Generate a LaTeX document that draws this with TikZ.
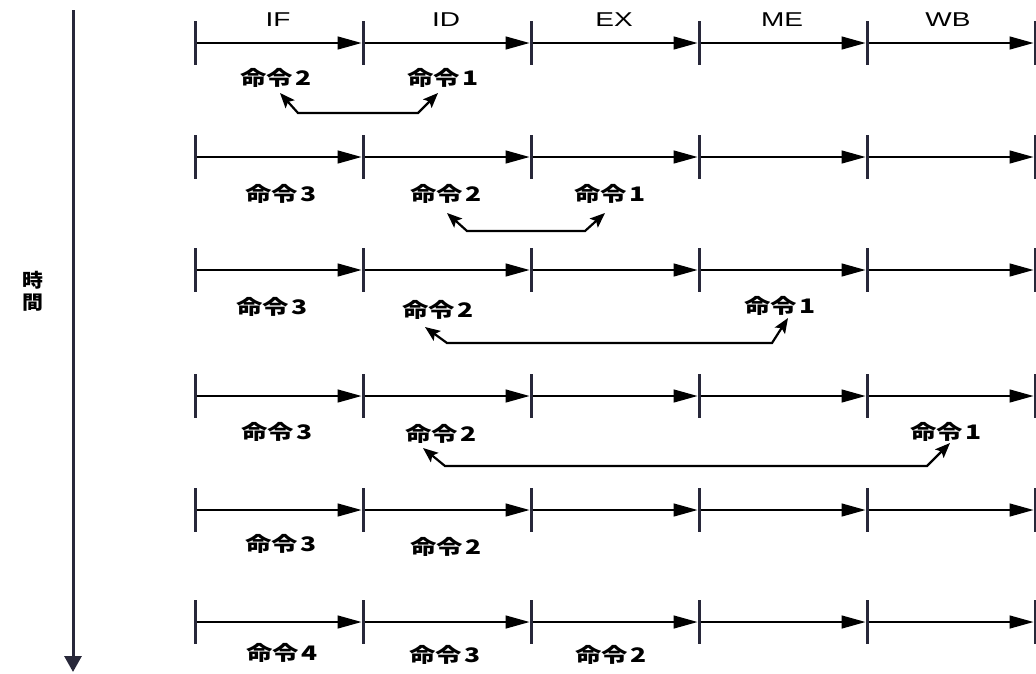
\documentclass[tikz,border=0pt]{standalone}
\usepackage{fontspec}
\usepackage{graphicx}
\setmainfont{Liberation Sans}
\newfontfamily\jp{Noto Sans CJK JP}
\usetikzlibrary{arrows.meta,calc}
\definecolor{tickc}{RGB}{40,40,58}
\newcommand\stg[1]{\scalebox{1.4}[1]{#1}}
\newcommand\mrei[1]{\scalebox{1.32}[1]{命令\kern1.5pt #1}}
\tikzset{
  tickline/.style={line width=3pt, draw=tickc},
  segline/.style={line width=1.4pt, -{Triangle[length=24pt,width=13pt]}, shorten >=1.5pt, shorten <=1.5pt},
  dbl/.style={line width=2.2pt, {Stealth[length=15pt,width=12pt,inset=3pt]}-{Stealth[length=15pt,width=12pt,inset=3pt]}, line join=miter},
  stage/.style={inner sep=0pt, font=\fontsize{20}{20}\selectfont},
  instr/.style={inner sep=0pt, font=\jp\bfseries\fontsize{20}{20}\selectfont},
}
\begin{document}
\begin{tikzpicture}[x=1pt,y=-1pt]
\fill[white] (0,0) rectangle (1036,673);
\useasboundingbox (0,0) rectangle (1036,673);
% time axis
\coordinate (tt) at (73,10);
\coordinate (tb) at (73,672);
\draw[line width=3pt, draw=tickc, -{Triangle[length=16pt,width=17pt]}] (tt) -- (tb);
\node[inner sep=0pt, align=center, font=\jp\bfseries\fontsize{19}{22}\selectfont] (time) at (33,291)
  {\scalebox{1.1}[1]{時}\\\scalebox{1.1}[1]{間}};
% stage labels
\node[stage] (sIF) at (278,20) {\stg{IF}};
\node[stage] (sID) at (446,20) {\stg{ID}};
\node[stage] (sEX) at (614,20) {\stg{EX}};
\node[stage] (sME) at (782,20) {\stg{ME}};
\node[stage] (sWB) at (948,20) {\stg{WB}};
% rows of ticks and segments
\foreach \r/\y in {1/43,2/157,3/270,4/396,5/510,6/622} {
  \foreach \i/\x in {0/195,1/363,2/531,3/699,4/867,5/1035} {
    \coordinate (t\r-\i) at (\x,\y);
    \draw[tickline] ([yshift=22pt]t\r-\i) -- ([yshift=-22pt]t\r-\i);
  }
  \foreach \i/\j in {0/1,1/2,2/3,3/4,4/5} {
    \draw[segline] (t\r-\i) -- (t\r-\j);
  }
}
% instruction labels
\node[instr] (r1a) at (276,78) {\mrei{2}};
\node[instr] (r1b) at (443,78) {\mrei{1}};
\node[instr] (r2a) at (281,194) {\mrei{3}};
\node[instr] (r2b) at (446,194) {\mrei{2}};
\node[instr] (r2c) at (610,194) {\mrei{1}};
\node[instr] (r3a) at (272,307) {\mrei{3}};
\node[instr] (r3b) at (438,310) {\mrei{2}};
\node[instr] (r3c) at (780,306) {\mrei{1}};
\node[instr] (r4a) at (277,432) {\mrei{3}};
\node[instr] (r4b) at (441,434) {\mrei{2}};
\node[instr] (r4c) at (946,432) {\mrei{1}};
\node[instr] (r5a) at (281,544) {\mrei{3}};
\node[instr] (r5b) at (446,547) {\mrei{2}};
\node[instr] (r6a) at (282,653) {\mrei{4}};
\node[instr] (r6b) at (445,655) {\mrei{3}};
\node[instr] (r6c) at (611,655) {\mrei{2}};
% forwarding connectors
\draw[dbl] ($(r1a)+(4,15)$) -- ($(r1a)+(22,35)$) -- ($(r1b)+(-25,35)$) -- ($(r1b)+(-5,15)$);
\draw[dbl] ($(r2b)+(1,19)$) -- ($(r2b)+(21,37)$) -- ($(r2c)+(-25,37)$) -- ($(r2c)+(-5,19)$);
\draw[dbl] ($(r3b)+(-13,17)$) -- ($(r3b)+(9,33)$) -- ($(r3c)+(-8,37)$) -- ($(r3c)+(8,12)$);
\draw[dbl] ($(r4b)+(-18,14)$) -- ($(r4b)+(4,32)$) -- ($(r4c)+(-19,34)$) -- ($(r4c)+(4,11)$);
\end{tikzpicture}
\end{document}
